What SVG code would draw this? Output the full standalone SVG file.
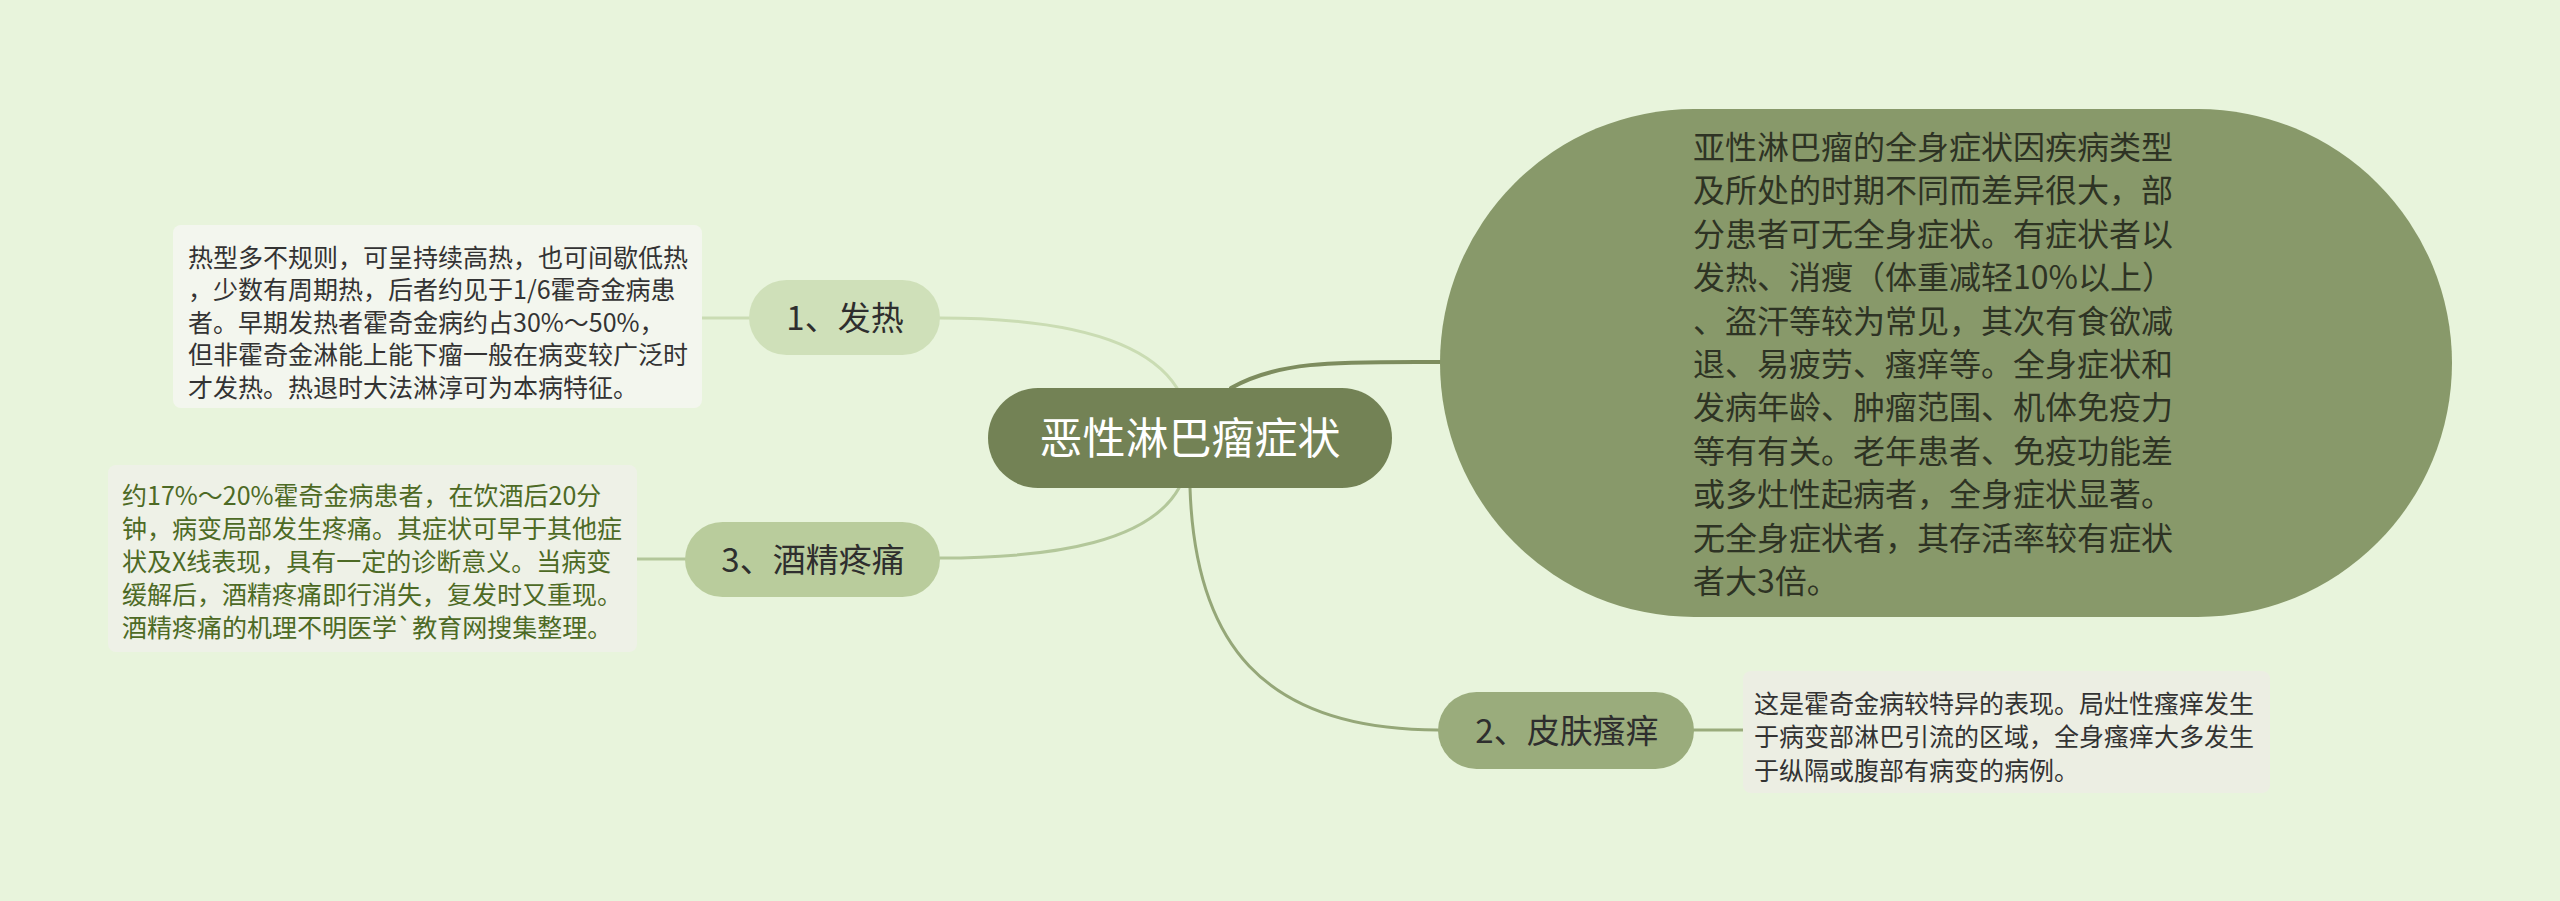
<svg xmlns="http://www.w3.org/2000/svg" width="2560" height="901" viewBox="0 0 2560 901">
<style>
text{font-family:"Noto Sans CJK SC","Noto Sans",sans-serif;}
.conn{fill:none;stroke-linecap:round;}
.desc{font-size:25px;fill:#333333;}
.node{font-size:33px;fill:#2e2e2e;text-anchor:middle;}
</style>
<rect width="2560" height="901" fill="#e8f4dc"/>
<g id="connectors">
  <path class="conn" d="M1231,388 C1280,360 1340,362 1440,362" stroke="#7d8c5e" stroke-width="4"/>
  <path class="conn" d="M940,318 C1080,318 1150,345 1177,388" stroke="#cadcb3" stroke-width="3"/>
  <path class="conn" d="M1179,488 C1150,540 1060,558 940,558" stroke="#b3c79a" stroke-width="3"/>
  <path class="conn" d="M1190,488 C1195,640 1260,730 1438,730" stroke="#95a778" stroke-width="3"/>
  <path class="conn" d="M702,318 L749,318" stroke="#cadcb3" stroke-width="3"/>
  <path class="conn" d="M637,559 L685,559" stroke="#b3c79a" stroke-width="3"/>
  <path class="conn" d="M1694,730 L1743,730" stroke="#9aab7c" stroke-width="3"/>
</g>
<g id="root">
  <rect x="988" y="388" width="404" height="100" rx="50" fill="#738255"/>
  <text x="1190" y="454" font-size="43" fill="#ffffff" text-anchor="middle">恶性淋巴瘤症状</text>
</g>
<g id="summary">
  <rect x="1440" y="109" width="1012" height="508" rx="254" fill="#88996a"/>
  <text font-size="32" fill="#2e3324">
    <tspan x="1693" y="159">亚性淋巴瘤的全身症状因疾病类型</tspan>
    <tspan x="1693" y="202.4">及所处的时期不同而差异很大，部</tspan>
    <tspan x="1693" y="245.8">分患者可无全身症状。有症状者以</tspan>
    <tspan x="1693" y="289.2">发热、消瘦（体重减轻10%以上）</tspan>
    <tspan x="1693" y="332.6">、盗汗等较为常见，其次有食欲减</tspan>
    <tspan x="1693" y="376">退、易疲劳、瘙痒等。全身症状和</tspan>
    <tspan x="1693" y="419.4">发病年龄、肿瘤范围、机体免疫力</tspan>
    <tspan x="1693" y="462.8">等有有关。老年患者、免疫功能差</tspan>
    <tspan x="1693" y="506.2">或多灶性起病者，全身症状显著。</tspan>
    <tspan x="1693" y="549.6">无全身症状者，其存活率较有症状</tspan>
    <tspan x="1693" y="593">者大3倍。</tspan>
  </text>
</g>
<g id="n1">
  <rect x="749" y="280" width="191" height="75" rx="37.5" fill="#cfe0b9"/>
  <text class="node" x="845" y="330">1、发热</text>
</g>
<g id="n1-desc">
  <rect x="173" y="225" width="529" height="183" rx="8" fill="#f3f6ee"/>
  <text class="desc">
    <tspan x="188" y="266.5">热型多不规则，可呈持续高热，也可间歇低热</tspan>
    <tspan x="188" y="299">，少数有周期热，后者约见于1/6霍奇金病患</tspan>
    <tspan x="188" y="331.5">者。早期发热者霍奇金病约占30%～50%，</tspan>
    <tspan x="188" y="364">但非霍奇金淋能上能下瘤一般在病变较广泛时</tspan>
    <tspan x="188" y="396.5">才发热。热退时大法淋淳可为本病特征。</tspan>
  </text>
</g>
<g id="n3">
  <rect x="685" y="522" width="255" height="75" rx="37.5" fill="#b9cc9c"/>
  <text class="node" x="813" y="572">3、酒精疼痛</text>
</g>
<g id="n3-desc">
  <rect x="108" y="465" width="529" height="187" rx="8" fill="#eef1e7"/>
  <text class="desc" style="fill:#4d6a25">
    <tspan x="122" y="504.5">约17%～20%霍奇金病患者，在饮酒后20分</tspan>
    <tspan x="122" y="537.5">钟，病变局部发生疼痛。其症状可早于其他症</tspan>
    <tspan x="122" y="570.5">状及X线表现，具有一定的诊断意义。当病变</tspan>
    <tspan x="122" y="603.5">缓解后，酒精疼痛即行消失，复发时又重现。</tspan>
    <tspan x="122" y="636.5">酒精疼痛的机理不明医学`教育网搜集整理。</tspan>
  </text>
</g>
<g id="n2">
  <rect x="1438" y="692" width="256" height="77" rx="38.5" fill="#9aac7c"/>
  <text class="node" x="1567" y="743">2、皮肤瘙痒</text>
</g>
<g id="n2-desc">
  <rect x="1743" y="671" width="527" height="122" rx="8" fill="#eceee3"/>
  <text class="desc">
    <tspan x="1754" y="712.5">这是霍奇金病较特异的表现。局灶性瘙痒发生</tspan>
    <tspan x="1754" y="746">于病变部淋巴引流的区域，全身瘙痒大多发生</tspan>
    <tspan x="1754" y="779.5">于纵隔或腹部有病变的病例。</tspan>
  </text>
</g>
</svg>
